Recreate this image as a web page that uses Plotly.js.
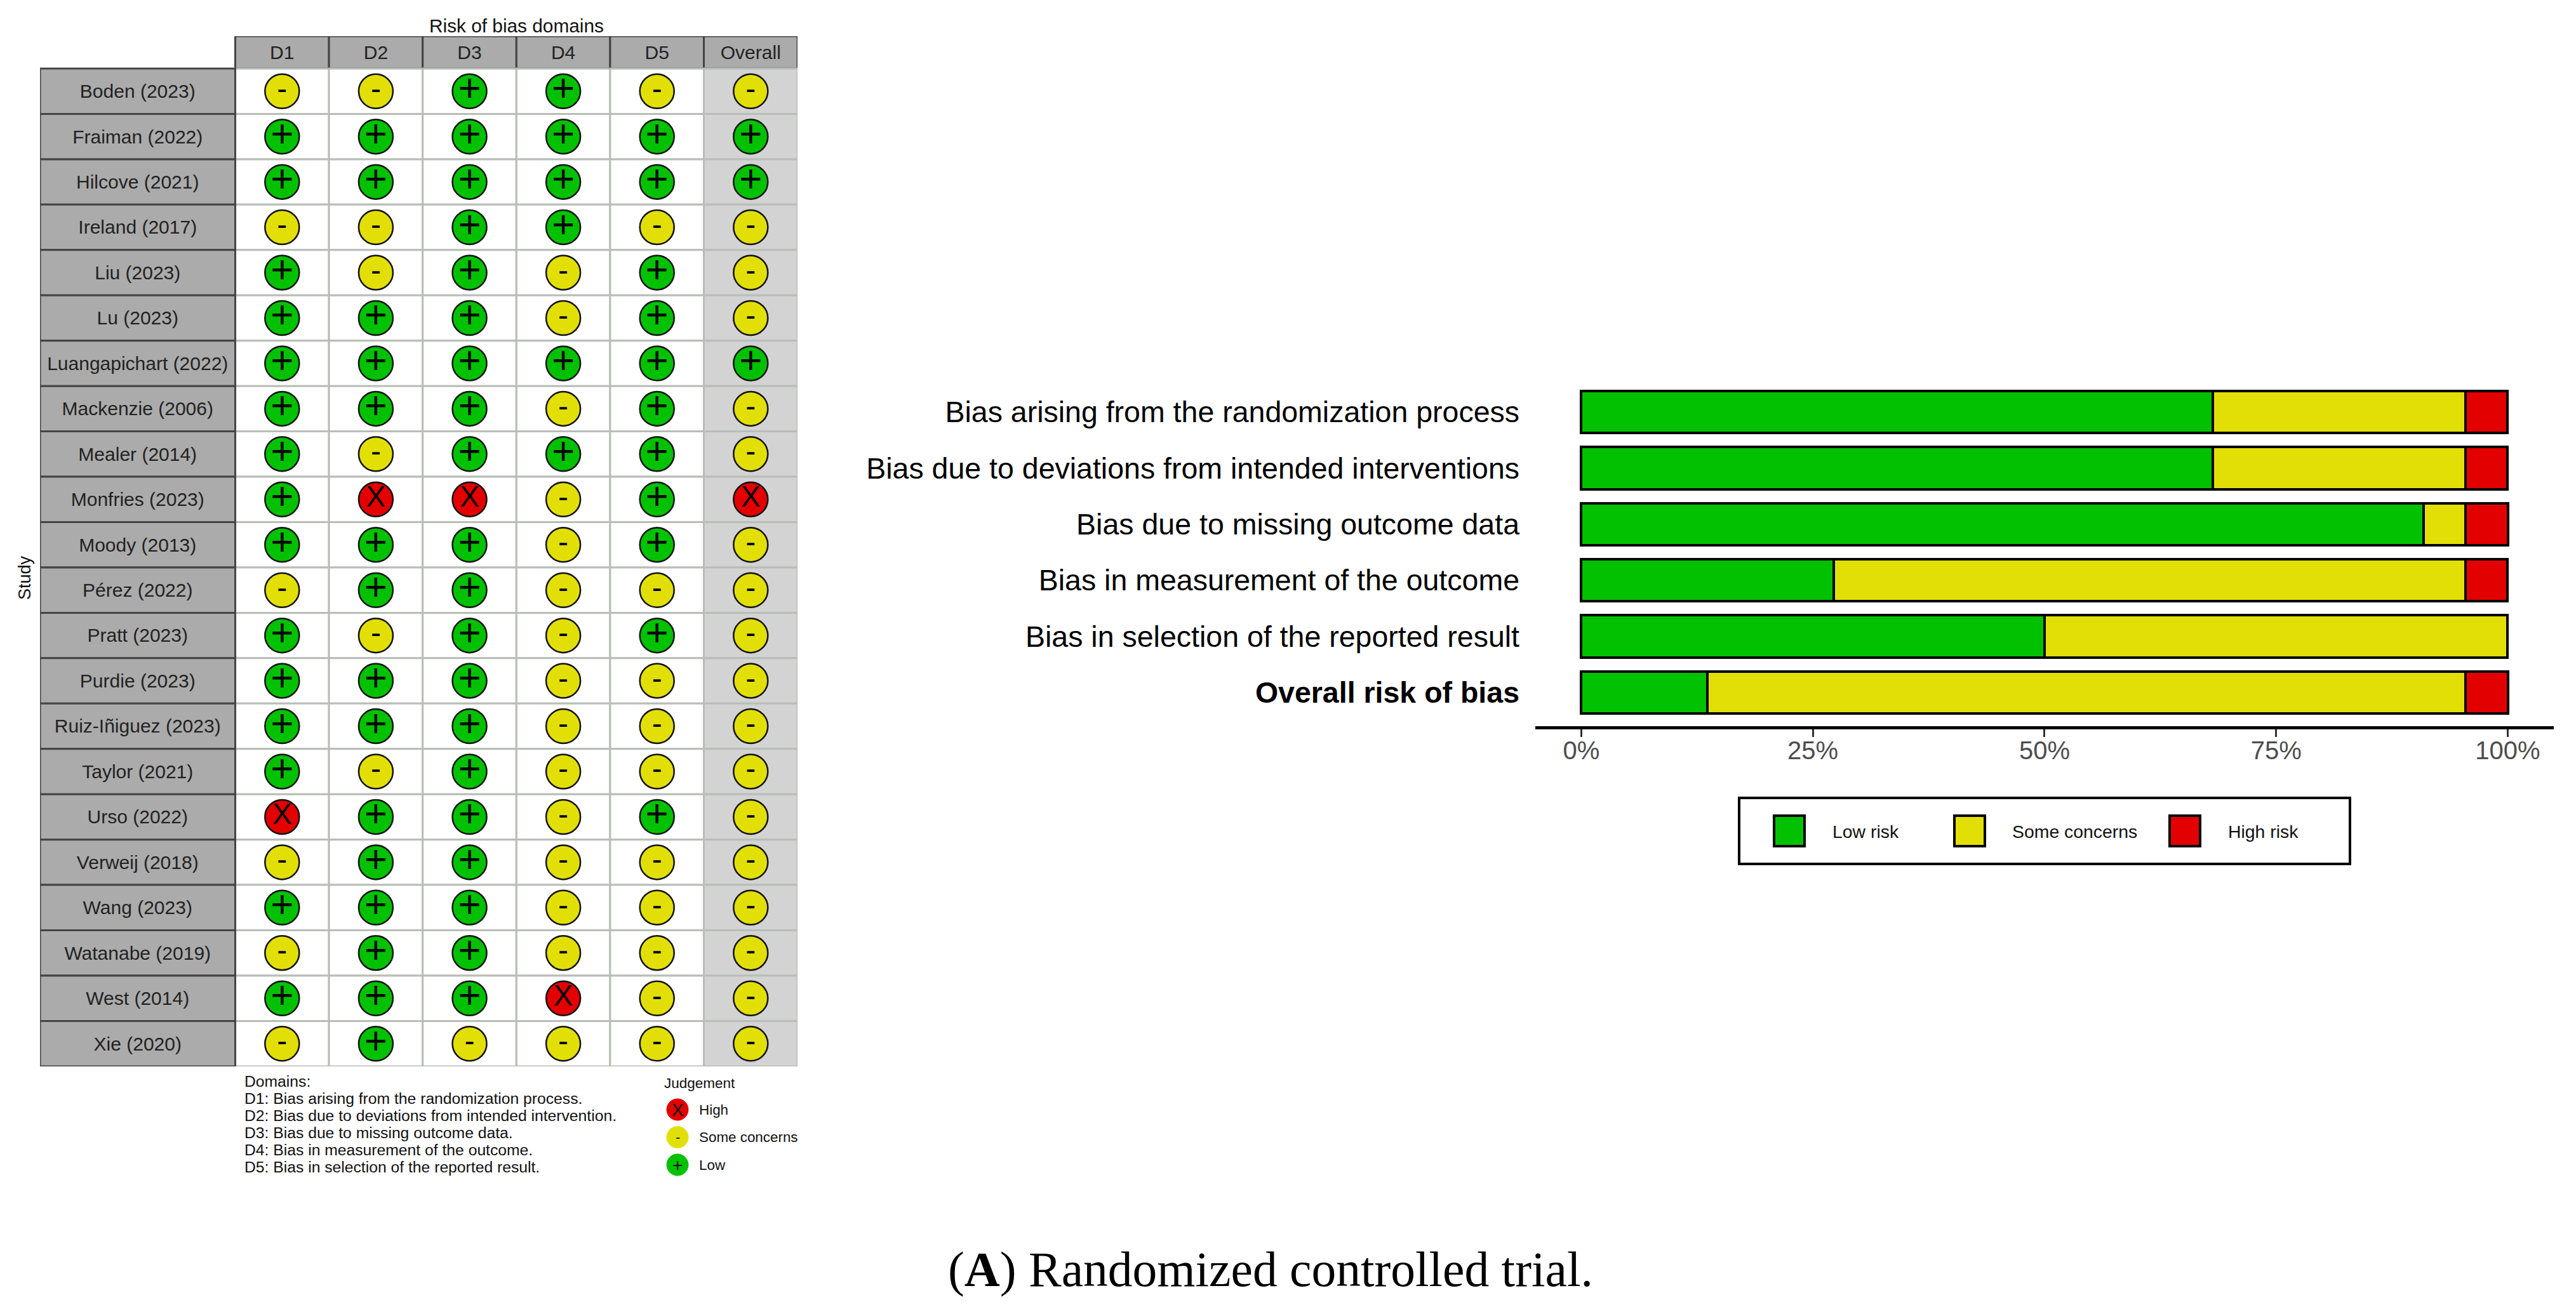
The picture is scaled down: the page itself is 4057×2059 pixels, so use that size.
<!DOCTYPE html>
<html><head><meta charset="utf-8">
<script src="https://cdn.plot.ly/plotly-3.0.1.min.js"></script>
<style>html,body{margin:0;padding:0;background:#fff}#c{width:4057px;height:2059px}</style>
</head><body><div id="c"></div>
<script>
const studies = ["Boden (2023)","Fraiman (2022)","Hilcove (2021)","Ireland (2017)","Liu (2023)","Lu (2023)","Luangapichart (2022)","Mackenzie (2006)","Mealer (2014)","Monfries (2023)","Moody (2013)","Pérez (2022)","Pratt (2023)","Purdie (2023)","Ruiz-Iñiguez (2023)","Taylor (2021)","Urso (2022)","Verweij (2018)","Wang (2023)","Watanabe (2019)","West (2014)","Xie (2020)"];
const domains = ["D1","D2","D3","D4","D5","Overall"];
const D1 = ["S","L","L","S","L","L","L","L","L","L","L","S","L","L","L","L","H","S","L","S","L","S"];
const D2 = ["S","L","L","S","S","L","L","L","S","H","L","L","S","L","L","S","L","L","L","L","L","L"];
const D3 = ["L","L","L","L","L","L","L","L","L","H","L","L","L","L","L","L","L","L","L","L","L","S"];
const D4 = ["L","L","L","L","S","S","L","S","L","S","S","S","S","S","S","S","S","S","S","S","H","S"];
const D5 = ["S","L","L","S","L","L","L","L","L","L","L","S","L","S","S","S","L","S","S","S","S","S"];
const Overall = ["S","L","L","S","S","S","L","S","S","H","S","S","S","S","S","S","S","S","S","S","S","S"];
const judgementColumns = [D1,D2,D3,D4,D5,Overall];

const biasLabels = ["Bias arising from the randomization process","Bias due to deviations from intended interventions","Bias due to missing outcome data","Bias in measurement of the outcome","Bias in selection of the reported result","<b>Overall risk of bias</b>"];
const lowRisk = [68.18,68.18,90.91,27.27,50,13.64];
const someConcerns = [27.27,27.27,4.55,68.18,50,81.82];
const highRisk = [4.55,4.55,4.55,4.55,0,4.55];

const domainNotes = ["Domains:","D1: Bias arising from the randomization process.","D2: Bias due to deviations from intended intervention.","D3: Bias due to missing outcome data.","D4: Bias in measurement of the outcome.","D5: Bias in selection of the reported result."];
const judgementNames = ["High","Some concerns","Low"];
const judgementCodes = ["H","S","L"];
const barLegendNames = ["Low risk","Some concerns","High risk"];

const COL = {L:"#02C100",S:"#E2DF07",H:"#E20000"};
const GLYPH = {L:"+",S:"-",H:"X"};
const W=4057,H=2059;
const px=x=>x/W, py=y=>1-y/H;
const FONT="Liberation Sans, Arial, sans-serif";

const colW=147.6,rowH=71.45,gx0=370.5,gy0=108,gridL=63,gridT=57;
const xMin=-0.5-(gx0-gridL)/colW, yMin=-0.5-(gy0-gridT)/rowH;
const xMax=5.5,yMax=21.5;
const xLabelC=(xMin-0.5)/2, yHeadC=(yMin-0.5)/2, labelDrop=0.04;

const shapes=[];
const rect=(x0,x1,y0,y1,fill,line,lw)=>shapes.push({type:"rect",xref:"x",yref:"y",x0,x1,y0,y1,fillcolor:fill,line:{color:line,width:lw},layer:"below"});
domains.forEach((d,c)=>{
  rect(c-0.5,c+0.5,yMin,-0.5,"#ABABAB","#444444",3);
  studies.forEach((s,r)=>rect(c-0.5,c+0.5,r-0.5,r+0.5,d==="Overall"?"#D3D3D3":"#FFFFFF","#B9BDB8",3));
});
studies.forEach((s,r)=>rect(xMin,-0.5,r-0.5,r+0.5,"#ABABAB","#444444",3));

const cx=[],cy=[],cc=[],ct=[],cs=[];
judgementColumns.forEach((col,c)=>col.forEach((j,r)=>{cx.push(c);cy.push(r);cc.push(COL[j]);ct.push(GLYPH[j]);cs.push(j==="S"?48:(j==="H"?46:62));}));

const traces=[
 {type:"scatter",mode:"markers+text",x:cx,y:cy,xaxis:"x",yaxis:"y",cliponaxis:false,
  marker:{size:54,color:cc,line:{color:"#111",width:2.5}},text:ct,textposition:"middle center",
  textfont:{family:FONT,size:cs,color:"#000"},hoverinfo:"skip",showlegend:false},
 {type:"scatter",mode:"text",x:studies.map(()=>xLabelC),y:studies.map((s,i)=>i+labelDrop),xaxis:"x",yaxis:"y",text:studies,
  textposition:"middle center",textfont:{family:FONT,size:30,color:"#222"},hoverinfo:"skip",showlegend:false},
 {type:"scatter",mode:"text",x:domains.map((d,i)=>i),y:domains.map(()=>yHeadC+labelDrop),xaxis:"x",yaxis:"y",text:domains,
  textposition:"middle center",textfont:{family:FONT,size:30,color:"#222"},hoverinfo:"skip",showlegend:false},
 {type:"bar",orientation:"h",name:barLegendNames[0],y:biasLabels,x:lowRisk,xaxis:"x2",yaxis:"y2",width:0.75,marker:{color:COL.L,line:{color:"#000",width:4}},showlegend:false},
 {type:"bar",orientation:"h",name:barLegendNames[1],y:biasLabels,x:someConcerns,xaxis:"x2",yaxis:"y2",width:0.75,marker:{color:COL.S,line:{color:"#000",width:4}},showlegend:false},
 {type:"bar",orientation:"h",name:barLegendNames[2],y:biasLabels,x:highRisk,xaxis:"x2",yaxis:"y2",width:0.75,marker:{color:COL.H,line:{color:"#000",width:4}},showlegend:false},
];

const ann=[];
const text=(x,y,t,size,opt={})=>ann.push(Object.assign({xref:"paper",yref:"paper",x:px(x),y:py(y),text:t,showarrow:false,xanchor:"left",yanchor:"middle",borderpad:0,font:{family:FONT,size,color:"#111"}},opt));
text(813,40,"Risk of bias domains",29.8,{xanchor:"center"});
text(39,910,"Study",27,{xanchor:"center",textangle:-90});
domainNotes.forEach((t,i)=>text(384,1703+i*27,t,24.7));
text(1045,1706,"Judgement",22.5);
judgementNames.forEach((n,i)=>{
  const y=1748+i*43.5, j=judgementCodes[i];
  shapes.push({type:"circle",xref:"paper",yref:"paper",x0:px(1050),x1:px(1084),y0:py(y+17),y1:py(y-17),fillcolor:COL[j],line:{color:COL[j],width:1}});
  text(1067,y,GLYPH[j],j==="S"?22:28,{xanchor:"center"});
  text(1100,y,n,22.4);
});
shapes.push({type:"rect",xref:"paper",yref:"paper",x0:px(2739),x1:px(3701),y0:py(1361),y1:py(1257),fillcolor:"#fff",line:{color:"#000",width:4}});
[[2794,2885],[3078,3168],[3417,3508]].forEach((p,i)=>{
  const j=["L","S","H"][i];
  shapes.push({type:"rect",xref:"paper",yref:"paper",x0:px(p[0]),x1:px(p[0]+48),y0:py(1333),y1:py(1285),fillcolor:COL[j],line:{color:"#000",width:4}});
  text(p[1],1310,barLegendNames[i],28.4);
});
text(2001,2000,"(<b>A</b>) Randomized controlled trial.",77.5,{xanchor:"center",font:{family:"Liberation Serif, serif",size:77.5,color:"#000"}});

const layout={
 width:W,height:H,margin:{l:0,r:0,t:0,b:0},paper_bgcolor:"#fff",plot_bgcolor:"rgba(0,0,0,0)",
 barmode:"stack",bargap:0.25,showlegend:false,hovermode:false,font:{family:FONT},
 xaxis:{domain:[px(gridL),px(gx0+6*colW)],range:[xMin,xMax],visible:false,fixedrange:true},
 yaxis:{domain:[py(gy0+22*rowH),py(gridT)],range:[yMax,yMin],visible:false,fixedrange:true},
 xaxis2:{anchor:"y2",domain:[px(2418),px(4022)],range:[-4.96,104.97],tickvals:[0,25,50,75,100],ticktext:["0%","25%","50%","75%","100%"],
   showgrid:false,zeroline:false,showline:true,linecolor:"#000",linewidth:5,ticks:"outside",ticklen:12,tickwidth:3,tickcolor:"#333",ticklabelstandoff:-13,
   tickfont:{family:FONT,size:40,color:"#4D4D4D"},fixedrange:true},
 yaxis2:{anchor:"x2",domain:[py(1144),py(596)],type:"category",categoryorder:"array",categoryarray:biasLabels,range:[5.6,-0.6],
   showgrid:false,zeroline:false,showline:false,ticks:"",ticklabelstandoff:24,tickfont:{family:FONT,size:46.5,color:"#000"},fixedrange:true},
 shapes,annotations:ann
};
Plotly.newPlot("c",traces,layout,{displayModeBar:false,staticPlot:true});
</script></body></html>
